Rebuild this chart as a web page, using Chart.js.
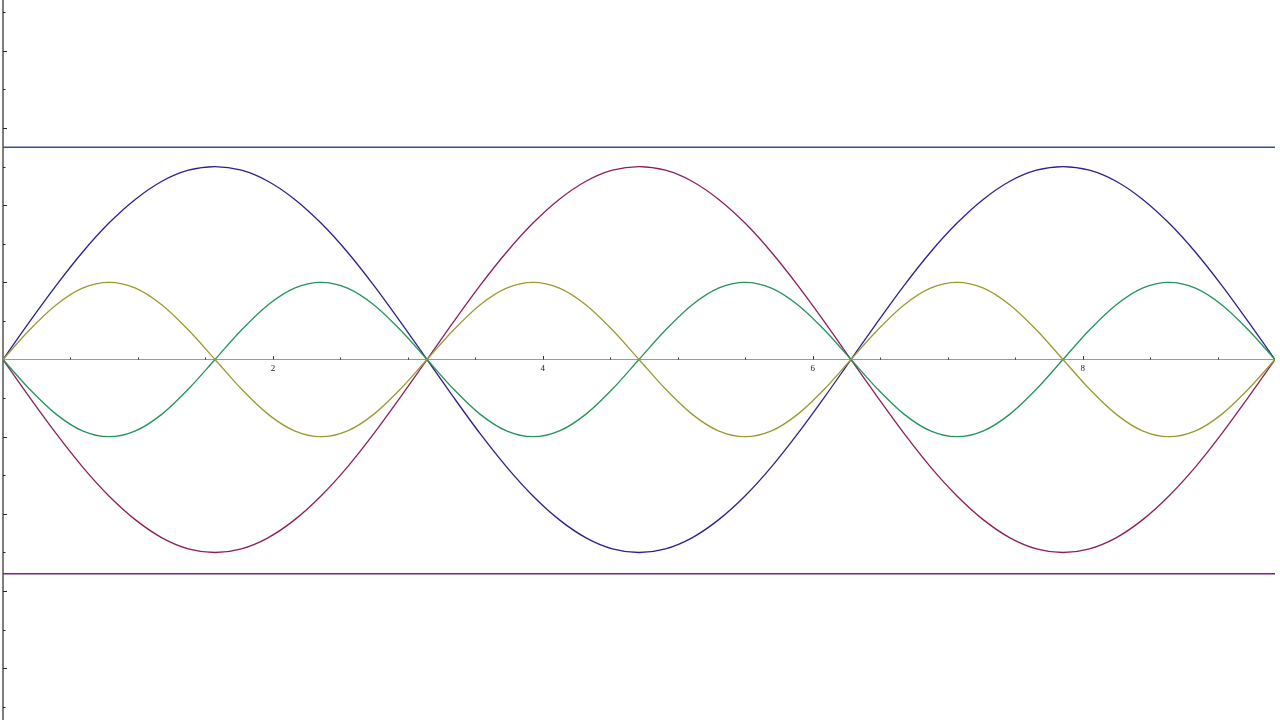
<!DOCTYPE html>
<html>
<head>
<meta charset="utf-8">
<script src="https://cdn.jsdelivr.net/npm/chart.js@4/dist/chart.umd.min.js"></script>
<style>
  html, body { margin: 0; padding: 0; background: #fff; }
  #wrap { width: 1280px; height: 720px; }
</style>
</head>
<body>
<div id="wrap"><canvas id="waveChart" width="1280" height="720"></canvas></div>
<script>
// ===== 데이터 =====
// x 샘플 위치 (0 ~ 3π, π/16 간격)
const xValues = [
  0.000, 0.196, 0.393, 0.589, 0.785, 0.982, 1.178, 1.374, 1.571, 1.767, 1.963, 2.160, 2.356, 2.553, 2.749, 2.945,
  3.142, 3.338, 3.534, 3.731, 3.927, 4.123, 4.320, 4.516, 4.712, 4.909, 5.105, 5.301, 5.498, 5.694, 5.890, 6.087,
  6.283, 6.480, 6.676, 6.872, 7.069, 7.265, 7.461, 7.658, 7.854, 8.050, 8.247, 8.443, 8.639, 8.836, 9.032, 9.228,
  9.425
];

// 큰 파동 (파랑)
const blueWave = [
  0, 0.195, 0.383, 0.556, 0.707, 0.831, 0.924, 0.981, 1, 0.981, 0.924, 0.831, 0.707, 0.556, 0.383, 0.195,
  0, -0.195, -0.383, -0.556, -0.707, -0.831, -0.924, -0.981, -1, -0.981, -0.924, -0.831, -0.707, -0.556, -0.383, -0.195,
  0, 0.195, 0.383, 0.556, 0.707, 0.831, 0.924, 0.981, 1, 0.981, 0.924, 0.831, 0.707, 0.556, 0.383, 0.195,
  0
];

// 큰 파동 (자주)
const redWave = [
  0, -0.195, -0.383, -0.556, -0.707, -0.831, -0.924, -0.981, -1, -0.981, -0.924, -0.831, -0.707, -0.556, -0.383, -0.195,
  0, 0.195, 0.383, 0.556, 0.707, 0.831, 0.924, 0.981, 1, 0.981, 0.924, 0.831, 0.707, 0.556, 0.383, 0.195,
  0, -0.195, -0.383, -0.556, -0.707, -0.831, -0.924, -0.981, -1, -0.981, -0.924, -0.831, -0.707, -0.556, -0.383, -0.195,
  0
];

// 작은 파동 (올리브)
const oliveWave = [
  0, 0.153, 0.283, 0.370, 0.400, 0.370, 0.283, 0.153, 0, -0.153, -0.283, -0.370, -0.400, -0.370, -0.283, -0.153,
  0, 0.153, 0.283, 0.370, 0.400, 0.370, 0.283, 0.153, 0, -0.153, -0.283, -0.370, -0.400, -0.370, -0.283, -0.153,
  0, 0.153, 0.283, 0.370, 0.400, 0.370, 0.283, 0.153, 0, -0.153, -0.283, -0.370, -0.400, -0.370, -0.283, -0.153,
  0
];

// 작은 파동 (초록)
const greenWave = [
  0, -0.153, -0.283, -0.370, -0.400, -0.370, -0.283, -0.153, 0, 0.153, 0.283, 0.370, 0.400, 0.370, 0.283, 0.153,
  0, -0.153, -0.283, -0.370, -0.400, -0.370, -0.283, -0.153, 0, 0.153, 0.283, 0.370, 0.400, 0.370, 0.283, 0.153,
  0, -0.153, -0.283, -0.370, -0.400, -0.370, -0.283, -0.153, 0, 0.153, 0.283, 0.370, 0.400, 0.370, 0.283, 0.153,
  0
];

// 경계선
const upperBound = 1.1;
const lowerBound = -1.11;

// 축 눈금
const xMajorTicks = [2, 4, 6, 8];
const xMinorTicks = [0.5, 1, 1.5, 2.5, 3, 3.5, 4.5, 5, 5.5, 6.5, 7, 7.5, 8.5, 9];
const xTickLabels = ['2', '4', '6', '8'];
const yTicks = [-1.8, -1.6, -1.4, -1.2, -1.0, -0.8, -0.6, -0.4, -0.2, 0.2, 0.4, 0.6, 0.8, 1.0, 1.2, 1.4, 1.6, 1.8];

const X_MIN = 0;
const X_MAX = 9.425;
const Y_MIN = -1.868;
const Y_MAX = 1.863;

function toPoints(ys) {
    return xValues.map((x, i) => ({ x: x, y: ys[i] }));
}

function flatLine(v) {
    return [{ x: X_MIN, y: v }, { x: X_MAX, y: v }];
}

// ===== 축 그리기 플러그인 =====
const axesPlugin = {
    id: 'crossAxes',
    beforeDatasetsDraw(chart) {
        const { ctx, scales: { x, y }, chartArea } = chart;
        const x0 = x.getPixelForValue(0);
        const y0 = y.getPixelForValue(0);
        ctx.save();

        // x 축
        ctx.strokeStyle = '#9a9a9a';
        ctx.lineWidth = 1;
        ctx.beginPath();
        ctx.moveTo(chartArea.left, y0);
        ctx.lineTo(chartArea.right, y0);
        ctx.stroke();

        ctx.strokeStyle = '#333';
        xMinorTicks.forEach(v => {
            const px = Math.round(x.getPixelForValue(v)) + 0.5;
            ctx.beginPath();
            ctx.moveTo(px, y0 - 2);
            ctx.lineTo(px, y0);
            ctx.stroke();
        });
        xMajorTicks.forEach(v => {
            const px = Math.round(x.getPixelForValue(v)) + 0.5;
            ctx.beginPath();
            ctx.moveTo(px, y0 - 3.5);
            ctx.lineTo(px, y0);
            ctx.stroke();
        });

        ctx.fillStyle = '#222';
        ctx.font = '9px "Liberation Serif", "DejaVu Serif", serif';
        ctx.textAlign = 'center';
        ctx.textBaseline = 'top';
        xMajorTicks.forEach((v, i) => {
            ctx.fillText(xTickLabels[i], x.getPixelForValue(v), y0 + 5);
        });

        // y 축
        ctx.strokeStyle = '#2b2520';
        ctx.lineWidth = 1.2;
        ctx.beginPath();
        ctx.moveTo(x0, 0);
        ctx.lineTo(x0, chart.height);
        ctx.stroke();

        ctx.lineWidth = 1;
        yTicks.forEach(v => {
            const py = Math.round(y.getPixelForValue(v)) + 0.5;
            const len = (Math.round(Math.abs(v) * 5) % 2 === 0) ? 4 : 2.5;
            ctx.beginPath();
            ctx.moveTo(x0, py);
            ctx.lineTo(x0 + len, py);
            ctx.stroke();
        });

        ctx.restore();
    }
};

// ===== 차트 =====
function renderWaveChart() {
    const canvas = document.getElementById('waveChart');
    const ctx = canvas.getContext('2d');

    const lineBase = {
        borderWidth: 1.3,
        pointRadius: 0,
        fill: false,
        cubicInterpolationMode: 'monotone'
    };

    new Chart(ctx, {
        type: 'line',
        data: {
            datasets: [
                { ...lineBase, label: 'upper', data: flatLine(upperBound), borderColor: '#3d4a9c', borderWidth: 1.5 },
                { ...lineBase, label: 'lower', data: flatLine(lowerBound), borderColor: '#7a2480', borderWidth: 1.5 },
                { ...lineBase, label: 'olive', data: toPoints(oliveWave), borderColor: '#9c9a30' },
                { ...lineBase, label: 'green', data: toPoints(greenWave), borderColor: '#249459' },
                { ...lineBase, label: 'red', data: toPoints(redWave), borderColor: '#8f1d5c' },
                { ...lineBase, label: 'blue', data: toPoints(blueWave), borderColor: '#2c1f92' }
            ]
        },
        options: {
            responsive: false,
            animation: false,
            devicePixelRatio: 1,
            layout: { padding: { left: 3, right: 5, top: 0, bottom: 0 } },
            plugins: {
                legend: { display: false },
                tooltip: { enabled: false }
            },
            scales: {
                x: { type: 'linear', min: X_MIN, max: X_MAX, display: false },
                y: { type: 'linear', min: Y_MIN, max: Y_MAX, display: false }
            }
        },
        plugins: [axesPlugin]
    });
}

renderWaveChart();
</script>
</body>
</html>
